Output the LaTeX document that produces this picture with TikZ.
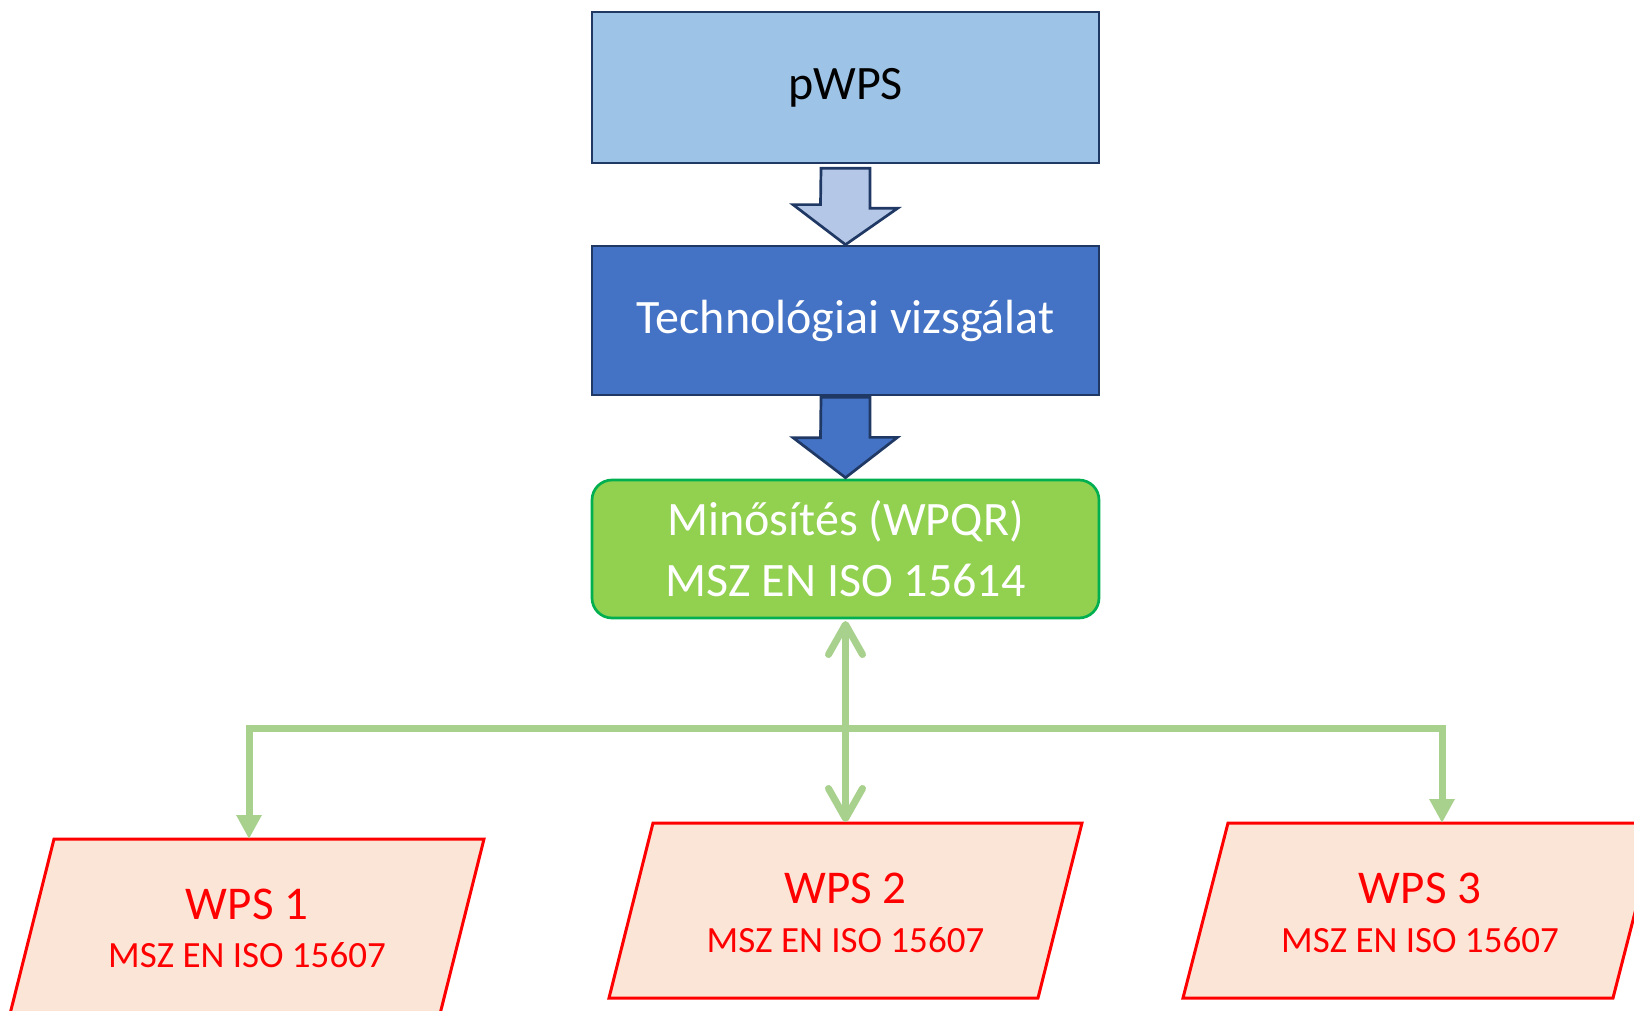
\documentclass[tikz,border=0pt]{standalone}
\usepackage{fontspec}
\setmainfont{Carlito}
\usetikzlibrary{arrows.meta,calc}

\definecolor{pwpsfill}{HTML}{9DC3E6}
\definecolor{navy}{HTML}{203864}
\definecolor{arrowlight}{HTML}{B4C7E7}
\definecolor{techblue}{HTML}{4472C4}
\definecolor{qualfill}{HTML}{92D050}
\definecolor{qualedge}{HTML}{00B050}
\definecolor{linkgreen}{HTML}{A9D18E}
\definecolor{wpsfill}{HTML}{FBE5D6}
\definecolor{wpsred}{HTML}{FF0000}

\begin{document}
\begin{tikzpicture}[x=1pt,y=-1pt,
  box/.style={draw=navy, line width=2.7pt, minimum width=507pt, minimum height=151pt,
    inner sep=0pt, align=center, font=\fontsize{48}{61}\selectfont},
  blockarrow/.style={draw=navy, line width=2.7pt, line join=miter},
  wpsshape/.style={draw=wpsred, fill=wpsfill, line width=3pt},
  wpstitle/.style={anchor=base, inner sep=0pt, text=wpsred, font=\fontsize{47}{54}\selectfont},
  wpsnorm/.style={anchor=base, inner sep=0pt, text=wpsred, font=\fontsize{37}{44}\selectfont},
  link/.style={draw=linkgreen, line width=7pt},
  tri/.style={-{Triangle[length=24pt,width=24pt]}},
  barbs/.style={{Straight Barb[length=30pt,width=34pt,line cap=round,line join=round]}-{Straight Barb[length=30pt,width=34pt,line cap=round,line join=round]}, line cap=round}
]
\clip (0,0) rectangle (1634,1011);
\fill[white] (0,0) rectangle (1634,1011);

% process boxes
\node[box, fill=pwpsfill, text=black] (pwps) at (845.5,87.5) {pWPS};
\node[box, fill=techblue, text=white, minimum height=149pt] (tech) at (845.5,320.5) {Technológiai vizsgálat};
\node[box, draw=qualedge, fill=qualfill, text=white, minimum height=138pt, rounded corners=20pt]
  (qual) at (845.5,549) {Minősítés (WPQR)\\MSZ EN ISO 15614};

% block arrows between the boxes
\draw[blockarrow, fill=arrowlight]
  ($(pwps.south)+(-24.5,4)$) -- ++(49,0) -- ++(0,40) -- ++(27.5,0)
  -- (tech.north) -- ++(-52.5,-40) -- ++(27.5,0) -- cycle;
\draw[blockarrow, fill=techblue]
  ($(tech.south)+(-24.5,1)$) -- ++(49,0) -- ++(0,40) -- ++(27.5,0)
  -- ($(qual.north)+(0,-1)$) -- ++(-52.5,-40) -- ++(27.5,0) -- cycle;

% WPS documents
\draw[wpsshape] (54,839) -- (484,839) -- (440,1014) -- (10,1014) -- cycle;
\node[wpstitle] (wps1t) at (247,919) {WPS 1};
\node[wpsnorm] (wps1s) at (247,967) {MSZ EN ISO 15607};

\draw[wpsshape] (653,823) -- (1082,823) -- (1038,998) -- (609,998) -- cycle;
\node[wpstitle] (wps2t) at (845.5,903) {WPS 2};
\node[wpsnorm] (wps2s) at (845.5,952) {MSZ EN ISO 15607};

\draw[wpsshape] (1228,823) -- (1658,823) -- (1613,998) -- (1183,998) -- cycle;
\node[wpstitle] (wps3t) at (1420,903) {WPS 3};
\node[wpsnorm] (wps3s) at (1420,952) {MSZ EN ISO 15607};

% connectors
\coordinate (hub) at (845.5,728);
\coordinate (qualbot) at (845.5,621);
\coordinate (wps1top) at (249,839);
\coordinate (wps2top) at (845.5,822);
\coordinate (wps3top) at (1442,823);

\draw[link, tri] (hub) -| (wps1top);
\draw[link, tri] (hub) -| (wps3top);
\draw[link, barbs] (qualbot) -- (wps2top);
\end{tikzpicture}
\end{document}
